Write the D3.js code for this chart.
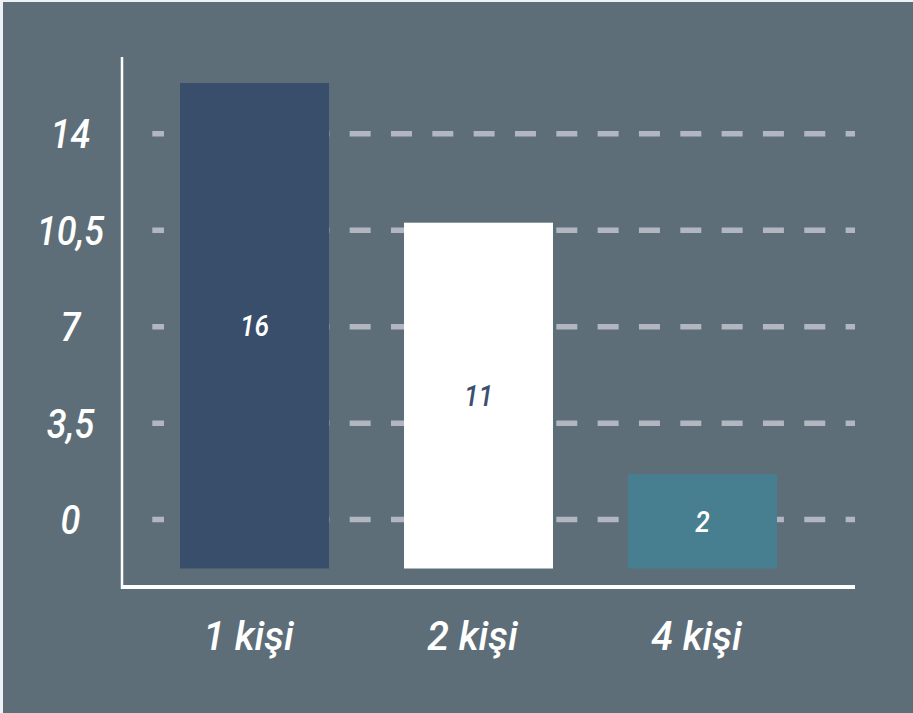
<!DOCTYPE html>
<html>
<head>
<meta charset="utf-8">
<script src="https://cdn.jsdelivr.net/npm/d3@7"></script>
<style>
  html, body { margin: 0; padding: 0; background: #eef1f5; }
  svg { display: block; }
  text { font-family: Roboto, "Noto Sans", sans-serif; font-style: italic; font-weight: 500; }
</style>
</head>
<body>
<svg id="chart" width="913" height="713"></svg>
<script>
const categories = ["1 kişi", "2 kişi", "4 kişi"];
const values = [16, 11, 2];
const tickValues = [0, 3.5, 7, 10.5, 14];
const tickLabels = ["0", "3,5", "7", "10,5", "14"];
const barColors = ["#384e6b", "#ffffff", "#477f90"];
const labelColors = ["#ffffff", "#3a506e", "#ffffff"];

const svg = d3.select("#chart");
svg.append("rect").attr("x", 3).attr("y", 2).attr("width", 910).attr("height", 711).attr("fill", "#5d6e78");

const y = d3.scaleLinear().domain([0, 14]).range([519.6, 133.8]);
const yBar = d3.scaleLinear().domain([0, 16]).range([530, 83]);
const x = d3.scaleBand().domain(categories).range([146.4, 810.6]).paddingInner(0.335).paddingOuter(0.15);
const baseY = 568.5;
const sx = 0.88;

// gridlines
svg.append("g").selectAll("line").data(tickValues).join("line")
  .attr("x1", 152.3).attr("x2", 855)
  .attr("y1", d => y(d)).attr("y2", d => y(d))
  .attr("stroke", "#b1b6c1").attr("stroke-width", 5.5)
  .attr("stroke-dasharray", "21 20.33").attr("stroke-dashoffset", 9.3);

// tick labels
svg.append("g").selectAll("text").data(tickValues).join("text")
  .attr("transform", d => `translate(70.5,${y(d) + 14.5}) scale(${sx},1)`)
  .attr("text-anchor", "middle").attr("font-size", 41).attr("fill", "#ffffff")
  .text((d, i) => tickLabels[i]);

// bars
const bars = svg.append("g");
bars.selectAll("rect").data(values).join("rect")
  .attr("x", (d, i) => x(categories[i]))
  .attr("width", x.bandwidth())
  .attr("y", d => yBar(d))
  .attr("height", d => baseY - yBar(d))
  .attr("fill", (d, i) => barColors[i]);

bars.selectAll("text").data(values).join("text")
  .attr("transform", (d, i) => `translate(${x(categories[i]) + x.bandwidth() / 2},${(yBar(d) + baseY) / 2 + 10.5}) scale(${sx},1)`)
  .attr("text-anchor", "middle").attr("font-size", 30)
  .attr("fill", (d, i) => labelColors[i])
  .text(d => d);

// axes
svg.append("line").attr("x1", 122).attr("x2", 122).attr("y1", 57).attr("y2", 589)
  .attr("stroke", "#ffffff").attr("stroke-width", 2.5);
svg.append("line").attr("x1", 121).attr("x2", 855).attr("y1", 587).attr("y2", 587)
  .attr("stroke", "#ffffff").attr("stroke-width", 4);

// x labels
svg.append("g").selectAll("text").data(categories).join("text")
  .attr("transform", d => `translate(${x(d) + x.bandwidth() / 2 - 6},650) scale(0.96,1)`)
  .attr("text-anchor", "middle").attr("font-size", 41).attr("fill", "#ffffff")
  .text(d => d);
</script>
</body>
</html>
